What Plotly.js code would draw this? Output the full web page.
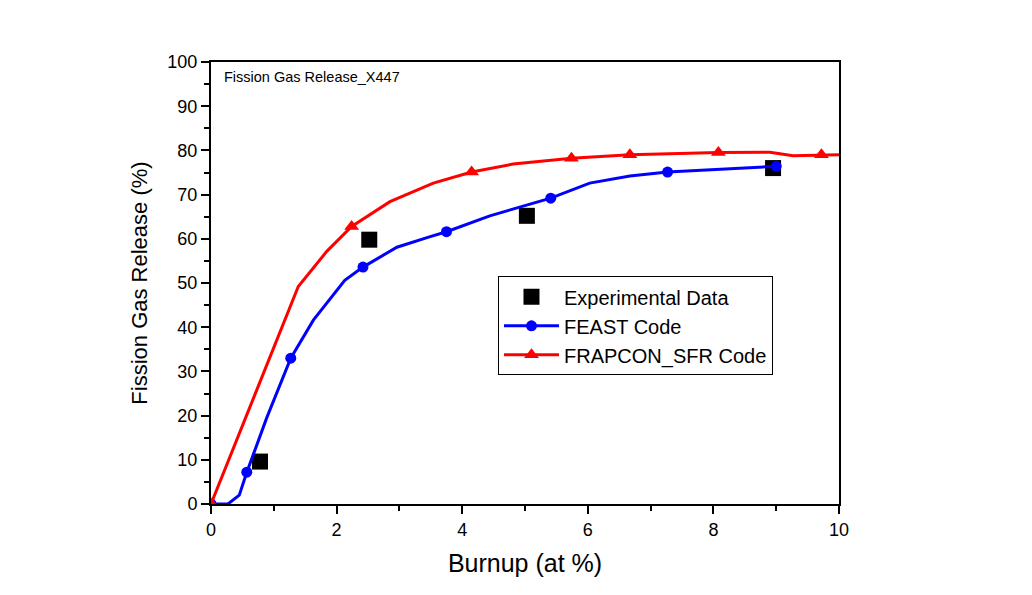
<!DOCTYPE html>
<html>
<head>
<meta charset="utf-8">
<script src="https://cdn.plot.ly/plotly-3.0.1.min.js"></script>
<style>html,body{margin:0;padding:0;background:#fff;}#chart{width:1032px;height:595px;}</style>
</head>
<body>
<div id="chart"></div>
<script>
// Experimental data
const expX = [0.78, 2.52, 5.03, 8.95];
const expY = [9.6, 59.8, 65.2, 76.0];

// FEAST Code curve (markers shown where feastMarker = 1)
const feastX = [0, 0.27, 0.45, 0.57, 0.89, 1.27, 1.63, 2.13, 2.42, 2.96, 3.49, 3.75, 4.44, 4.92, 5.41, 6.03, 6.67, 7.27, 8.0, 9.0];
const feastY = [0, 0, 2.0, 7.2, 19.6, 33.0, 41.6, 50.6, 53.6, 58.1, 60.5, 61.6, 65.2, 67.1, 69.2, 72.6, 74.2, 75.1, 75.7, 76.4];
const feastMarker = [1, 0, 0, 1, 0, 1, 0, 0, 1, 0, 0, 1, 0, 0, 1, 0, 0, 1, 0, 1];

// FRAPCON_SFR Code curve
const frapX = [0, 1.39, 1.84, 2.24, 2.85, 3.54, 4.15, 4.81, 5.74, 6.67, 8.08, 8.9, 9.27, 9.72, 10.0];
const frapY = [0, 49.2, 57.1, 62.8, 68.4, 72.6, 75.1, 76.9, 78.2, 79.0, 79.5, 79.6, 78.8, 79.0, 79.0];
const frapMarker = [1, 0, 0, 1, 0, 0, 1, 0, 1, 1, 1, 0, 0, 1, 0];

const FONT = 'Arial, "Liberation Sans", sans-serif';

function pick(arr, mask) { return arr.filter((_, i) => mask[i]); }

const traces = [
  {
    x: expX, y: expY, mode: 'markers', name: 'Experimental Data',
    marker: {symbol: 'square', size: 16, color: '#000000', line: {width: 0}}
  },
  // FEAST: curve + markers (legend drawn by a legend-only entry)
  {
    x: feastX, y: feastY, mode: 'lines', name: 'FEAST Code', legendgroup: 'feast', showlegend: false,
    line: {color: '#0000ff', width: 3}
  },
  {
    x: pick(feastX, feastMarker), y: pick(feastY, feastMarker), mode: 'markers', name: 'FEAST Code',
    legendgroup: 'feast', showlegend: false,
    marker: {symbol: 'circle', size: 11, color: '#0000ff', line: {width: 0}}
  },
  {
    x: [null], y: [null], mode: 'lines+markers', name: 'FEAST Code', legendgroup: 'feast',
    line: {color: '#0000ff', width: 3},
    marker: {symbol: 'circle', size: 11, color: '#0000ff', line: {width: 0}}
  },
  // FRAPCON_SFR
  {
    x: frapX, y: frapY, mode: 'lines', name: 'FRAPCON_SFR Code', legendgroup: 'frap', showlegend: false,
    line: {color: '#ff0000', width: 3}
  },
  {
    x: pick(frapX, frapMarker), y: pick(frapY, frapMarker), mode: 'markers', name: 'FRAPCON_SFR Code',
    legendgroup: 'frap', showlegend: false,
    marker: {symbol: 'triangle-up', size: 13, color: '#ff0000', line: {width: 0}}
  },
  {
    x: [null], y: [null], mode: 'lines+markers', name: 'FRAPCON_SFR Code', legendgroup: 'frap',
    line: {color: '#ff0000', width: 3},
    marker: {symbol: 'triangle-up', size: 13, color: '#ff0000', line: {width: 0}}
  }
];

const axisCommon = {
  showgrid: false, zeroline: false,
  showline: true, linecolor: '#000', linewidth: 2, mirror: true,
  ticks: 'outside', ticklen: 8, tickwidth: 2, tickcolor: '#000',
  tickfont: {family: FONT, size: 18, color: '#000'}
};

const layout = {
  width: 1032, height: 595,
  paper_bgcolor: '#fff', plot_bgcolor: '#fff',
  margin: {l: 211, r: 193, t: 62, b: 91},
  showlegend: true,
  legend: {
    x: 0.457, y: 0.515, xanchor: 'left', yanchor: 'top',
    bordercolor: '#000', borderwidth: 1, bgcolor: '#fff',
    font: {family: FONT, size: 20, color: '#000'},
    tracegroupgap: 0, itemwidth: 55, traceorder: 'normal'
  },
  xaxis: Object.assign({}, axisCommon, {
    range: [0, 10], dtick: 2, tick0: 0,
    minor: {dtick: 1, ticks: 'outside', ticklen: 5, tickwidth: 2, tickcolor: '#000'},
    title: {text: 'Burnup (at %)', font: {family: FONT, size: 25, color: '#000'}, standoff: 16}
  }),
  yaxis: Object.assign({}, axisCommon, {
    range: [0, 100], dtick: 10, tick0: 0,
    minor: {dtick: 5, ticks: 'outside', ticklen: 5, tickwidth: 2, tickcolor: '#000'},
    title: {text: 'Fission Gas Release (%)', font: {family: FONT, size: 22, color: '#000'}, standoff: 14}
  }),
  annotations: [{
    x: 0.017, y: 0.965, xref: 'paper', yref: 'paper', xanchor: 'left', yanchor: 'middle',
    text: 'Fission Gas Release_X447', showarrow: false,
    font: {family: FONT, size: 14.5, color: '#000'}
  }]
};

Plotly.newPlot('chart', traces, layout, {displayModeBar: false});
</script>
</body>
</html>
